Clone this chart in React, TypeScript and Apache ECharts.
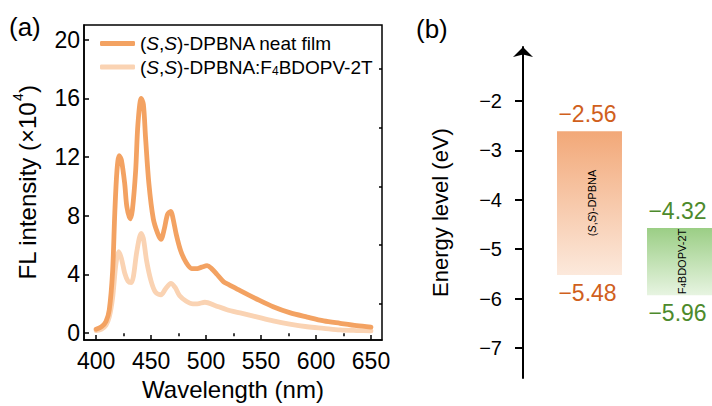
import React, { useEffect, useRef } from "react";
import * as echarts from "echarts";

// ---------- data ----------
const wlNeat = [400, 405, 409, 412, 415, 417, 419, 421, 423, 426, 428, 431, 433, 436, 438, 441, 443, 445, 448, 452, 456, 459, 462, 465, 468, 470, 473, 477, 482, 487, 492, 496, 501, 505, 510, 516, 521, 531, 546, 561, 576, 592, 607, 622, 637, 650];
const neatFilm = [0.27, 0.45, 0.8, 1.6, 4.2, 8.2, 11.1, 12.1, 11.8, 10.2, 8.6, 7.8, 8.4, 11.1, 14.2, 16.0, 15.6, 13.3, 10.2, 7.8, 6.8, 6.4, 7.1, 8.1, 8.3, 7.8, 6.7, 5.6, 4.8, 4.4, 4.4, 4.5, 4.6, 4.4, 4.0, 3.5, 3.3, 2.9, 2.33, 1.8, 1.4, 1.1, 0.84, 0.67, 0.51, 0.42];
const wlDoped = [400, 405, 409, 412, 415, 418, 420.5, 423, 426, 429, 432, 434, 437, 441, 443, 446, 450, 454, 459, 463, 468, 472, 476, 482, 488, 492, 499, 508, 519, 531, 546, 561, 576, 592, 607, 622, 637, 650];
const dopedFilm = [0.18, 0.28, 0.55, 1.1, 2.4, 4.7, 5.55, 5.1, 4.1, 3.55, 3.45, 3.9, 5.55, 6.8, 6.45, 4.9, 3.55, 2.8, 2.62, 3.0, 3.4, 3.1, 2.55, 2.18, 2.0, 2.0, 2.11, 1.89, 1.6, 1.38, 1.11, 0.84, 0.62, 0.44, 0.33, 0.22, 0.18, 0.16];

const xMajorTicks = [400, 450, 500, 550, 600, 650];
const xMinorTicks = [425, 475, 525, 575, 625];
const yMajorTicks = [0, 4, 8, 12, 16, 20];
const yMinorTicks = [2, 6, 10, 14, 18];
const energyTicks = [-7, -6, -5, -4, -3, -2];

const materials = ["(S,S)-DPBNA", "F4BDOPV-2T"];
const lumoLabels = [-2.56, -4.32];
const homoLabels = [-5.48, -5.96];
const barTops = [-2.61, -4.57];
const barBottoms = [-5.52, -5.93];

// ---------- styles ----------
const FONT = "'Liberation Sans', Arial, sans-serif";
const NEAT_COLOR = "#f3a262";
const DOPED_COLOR = "#fad3b3";
const barGradients = [
  ["#f2a878", "#fce9dc"],
  ["#9bce85", "#e7f4e1"],
];
const labelColors = ["#d0601c", "#4d8a2c"];
const innerTexts = ["({i|S},{i|S})-DPBNA", "F{sub|4}BDOPV-2T"];

const minus = (v: number | string) => String(v).replace("-", "\u2212");

export default function App() {
  const ref = useRef<HTMLDivElement>(null);

  useEffect(() => {
    if (!ref.current) return;
    document.body.style.margin = "0";
    document.documentElement.style.overflow = "hidden";
    const chart = echarts.init(ref.current, null, { renderer: "svg" });

    const tickLabel = { fontFamily: FONT, fontSize: 23, color: "#000" };

    const option: any = {
      animation: false,
      backgroundColor: "#fff",
      textStyle: { fontFamily: FONT },
      grid: [
        { left: 84, top: 25, width: 298, height: 322, show: true, borderColor: "#000", borderWidth: 1.5, backgroundColor: "transparent" },
        { left: 589.5, top: 47, width: 90, height: 331 },
      ],
      legend: {
        orient: "vertical",
        left: 95,
        top: 29,
        itemWidth: 35,
        itemHeight: 5,
        itemGap: 4,
        icon: "roundRect",
        data: ["neat", "doped"],
        formatter: (name: string) =>
          name === "neat"
            ? "{n|(}{i|S}{n|,}{i|S}{n|)-DPBNA neat film}"
            : "{n|(}{i|S}{n|,}{i|S}{n|)-DPBNA:F}{sub|4}{n|BDOPV-2T}",
        textStyle: {
          fontFamily: FONT,
          color: "#000",
          rich: {
            n: { fontFamily: FONT, fontSize: 19, color: "#000", lineHeight: 20 },
            i: { fontFamily: FONT, fontSize: 19, fontStyle: "italic", color: "#000", lineHeight: 20 },
            sub: { fontFamily: FONT, fontSize: 12, color: "#000", verticalAlign: "bottom", lineHeight: 14, padding: [8, 0, 0, 0] },
          },
        },
      },
      xAxis: [
        {
          gridIndex: 0,
          type: "value",
          min: 389,
          max: 660,
          name: "Wavelength (nm)",
          nameLocation: "middle",
          nameGap: 32,
          nameTextStyle: { fontFamily: FONT, fontSize: 24, color: "#000" },
          axisLine: { show: true, onZero: false, lineStyle: { color: "#000", width: 1.5 } },
          axisTick: { show: true, inside: true, length: 5, customValues: xMajorTicks, lineStyle: { color: "#000", width: 1.5 } },
          axisLabel: { ...tickLabel, margin: 9, customValues: xMajorTicks },
          splitLine: { show: false },
        },
        {
          gridIndex: 0,
          type: "value",
          min: 389,
          max: 660,
          axisLine: { show: false },
          axisTick: { show: true, inside: true, length: 3, customValues: xMinorTicks, lineStyle: { color: "#000", width: 1.5 } },
          axisLabel: { show: false },
          splitLine: { show: false },
        },
        {
          gridIndex: 1,
          type: "category",
          boundaryGap: false,
          data: materials,
          show: false,
        },
      ],
      yAxis: [
        {
          gridIndex: 0,
          type: "value",
          min: -0.47,
          max: 21,
          name: "{a|FL intensity (\u00d710}{s|4}{a|)}",
          nameLocation: "middle",
          nameGap: 45,
          nameTextStyle: {
            fontFamily: FONT,
            color: "#000",
            rich: {
              a: { fontFamily: FONT, fontSize: 24, color: "#000", lineHeight: 28, verticalAlign: "bottom" },
              s: { fontFamily: FONT, fontSize: 14, color: "#000", lineHeight: 28, verticalAlign: "top", padding: [0, 0, 0, 1] },
            },
          },
          axisLine: { show: true, onZero: false, lineStyle: { color: "#000", width: 1.5 } },
          axisTick: { show: true, inside: true, length: 5, customValues: yMajorTicks, lineStyle: { color: "#000", width: 1.5 } },
          axisLabel: { ...tickLabel, margin: 4, customValues: yMajorTicks },
          splitLine: { show: false },
        },
        {
          gridIndex: 0,
          type: "value",
          min: -0.47,
          max: 21,
          axisLine: { show: false },
          axisTick: { show: true, inside: true, length: 3, customValues: yMinorTicks, lineStyle: { color: "#000", width: 1.5 } },
          axisLabel: { show: false },
          splitLine: { show: false },
        },
        {
          gridIndex: 1,
          type: "value",
          min: -7.607,
          max: -0.907,
          offset: 66.5,
          name: "Energy level (eV)",
          nameLocation: "middle",
          nameGap: 72,
          nameTextStyle: { fontFamily: FONT, fontSize: 22, color: "#000" },
          axisLine: {
            show: true,
            onZero: false,
            symbol: ["none", "arrow"],
            symbolSize: [15, 10],
            lineStyle: { color: "#000", width: 2 },
          },
          axisTick: { show: true, inside: false, length: 8, customValues: energyTicks, lineStyle: { color: "#000", width: 2 } },
          axisLabel: { fontFamily: FONT, fontSize: 20, color: "#000", margin: 21, customValues: energyTicks, formatter: (v: number) => minus(v) },
          splitLine: { show: false },
        },
      ],
      series: [
        {
          name: "doped",
          type: "line",
          xAxisIndex: 0,
          yAxisIndex: 0,
          data: wlDoped.map((w, i) => [w, dopedFilm[i]]),
          showSymbol: false,
          smooth: 0.3,
          color: DOPED_COLOR,
          lineStyle: { width: 4.8, color: DOPED_COLOR, cap: "round", join: "round" },
          z: 2,
        },
        {
          name: "neat",
          type: "line",
          xAxisIndex: 0,
          yAxisIndex: 0,
          data: wlNeat.map((w, i) => [w, neatFilm[i]]),
          showSymbol: false,
          smooth: 0.3,
          color: NEAT_COLOR,
          lineStyle: { width: 4.8, color: NEAT_COLOR, cap: "round", join: "round" },
          z: 3,
        },
        {
          type: "custom",
          xAxisIndex: 2,
          yAxisIndex: 2,
          clip: false,
          data: materials.map((m, i) => [i, barTops[i], barBottoms[i], lumoLabels[i], homoLabels[i]]),
          renderItem: (params: any, api: any) => {
            const idx = api.value(0);
            const p1 = api.coord([idx, api.value(1)]);
            const p2 = api.coord([idx, api.value(2)]);
            const w = api.size([1, 0])[0] * 0.722;
            const cx = p1[0];
            const g = barGradients[idx];
            const col = labelColors[idx];
            return {
              type: "group",
              children: [
                {
                  type: "rect",
                  shape: { x: cx - w / 2, y: p1[1], width: w, height: p2[1] - p1[1] },
                  style: {
                    fill: new echarts.graphic.LinearGradient(0, 0, 0, 1, [
                      { offset: 0, color: g[0] },
                      { offset: 1, color: g[1] },
                    ]),
                  },
                },
                {
                  type: "text",
                  x: cx - 2,
                  y: p1[1] - 17,
                  style: { text: minus(api.value(3).toFixed(2)), fontFamily: FONT, fontSize: 23, fill: col, align: "center", verticalAlign: "middle" },
                },
                {
                  type: "text",
                  x: cx - 2,
                  y: p2[1] + 18,
                  style: { text: minus(api.value(4).toFixed(2)), fontFamily: FONT, fontSize: 23, fill: col, align: "center", verticalAlign: "middle" },
                },
                {
                  type: "text",
                  x: cx + 2,
                  y: (p1[1] + p2[1]) / 2,
                  rotation: Math.PI / 2,
                  style: {
                    text: innerTexts[idx],
                    fontFamily: FONT,
                    fontSize: 11,
                    fill: "#000",
                    align: "center",
                    verticalAlign: "middle",
                    rich: {
                      i: { fontFamily: FONT, fontSize: 11, fontStyle: "italic", fill: "#000" },
                      sub: { fontFamily: FONT, fontSize: 8, fill: "#000", verticalAlign: "bottom", padding: [4, 0, 0, 0] },
                    },
                  },
                },
              ],
            };
          },
        },
      ],
      graphic: [
        { type: "text", left: 9, top: 14, style: { text: "(a)", fontFamily: FONT, fontSize: 26, fill: "#000" } },
        { type: "text", left: 416, top: 16, style: { text: "(b)", fontFamily: FONT, fontSize: 26, fill: "#000" } },
      ],
    };

    chart.setOption(option);
    return () => chart.dispose();
  }, []);

  return <div ref={ref} style={{ width: 712, height: 406 }} />;
}
